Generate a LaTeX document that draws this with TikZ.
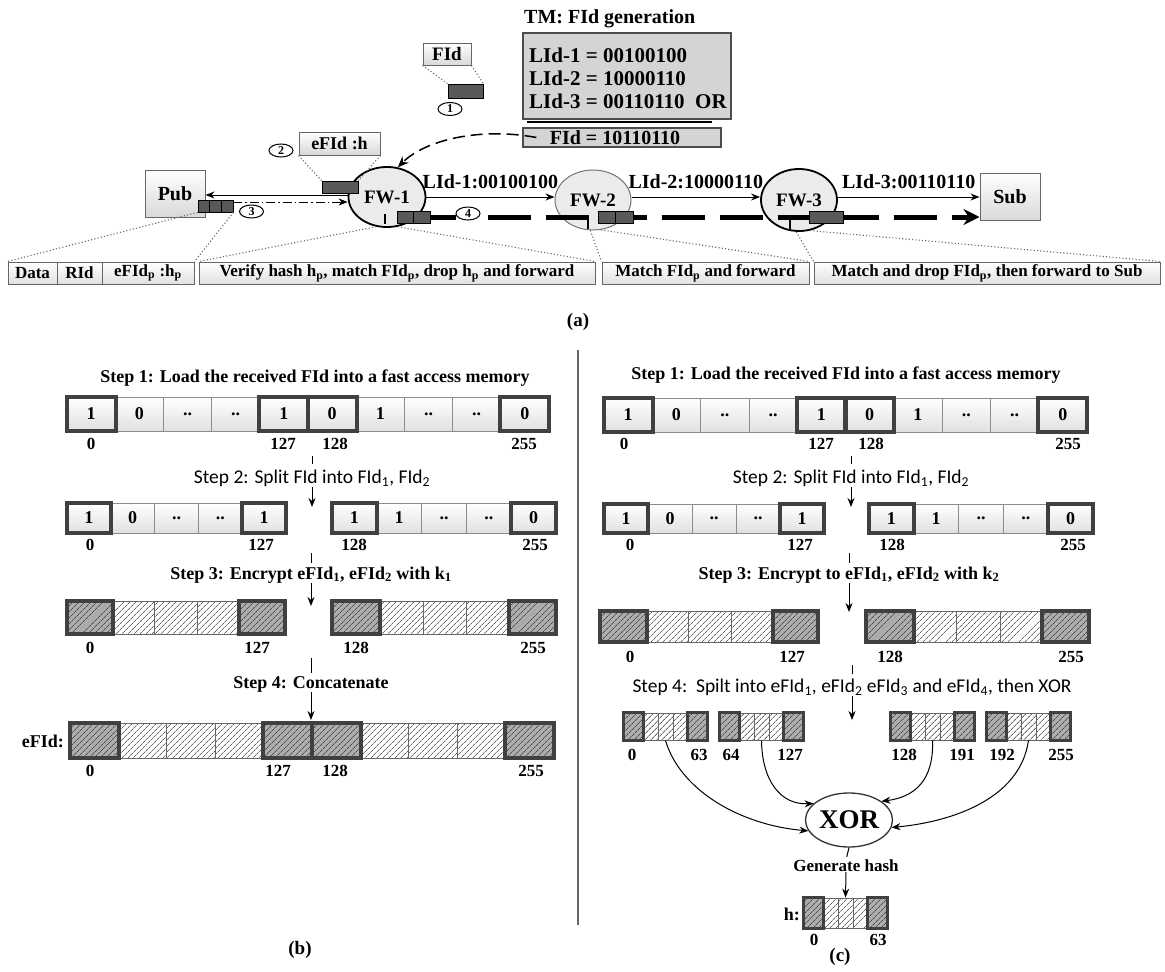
\documentclass[tikz,border=0pt]{standalone}
\usepackage{fontspec}
\setmainfont{Liberation Serif}
\newfontfamily\sansf{Carlito}
\usetikzlibrary{shapes.geometric,arrows.meta,patterns.meta}
\newcommand\twodots{..}
\tikzset{
  serb/.style={font=\fontsize{#1}{#1}\selectfont\bfseries},
  sanss/.style={font=\fontsize{#1}{#1}\selectfont\sansf},
  bare/.style={inner sep=0pt},
  cellbox/.style={draw=black!45, line width=0.8pt, top color=white, bottom color=black!12, inner sep=0pt, serb=18},
  thickb/.style={draw=black!75, line width=4pt},
  encl/.style={draw=black!60, line width=0.8pt, inner sep=0pt, preaction={fill=white}, pattern={Lines[angle=45,distance=4pt,line width=0.8pt]}, pattern color=black!60},
  encd/.style={draw=black!60, line width=0.8pt, inner sep=0pt, preaction={fill=black!32}, pattern={Lines[angle=45,distance=4pt,line width=0.8pt]}, pattern color=black!70},
  arr/.style={-{Stealth[length=9pt,width=7pt]}, line width=1pt},
  dashdotarr/.style={-{Stealth[length=9pt,width=7pt]}, line width=1pt, dash pattern=on 9pt off 3pt on 1.5pt off 3pt},
  tickl/.style={line width=1pt},
  dotl/.style={line width=1.1pt, black!60, dash pattern=on 1.1pt off 2.2pt},
  pbar/.style={draw=black, fill=black!65, line width=0.7pt, inner sep=0pt, minimum height=12pt},
  numc/.style={ellipse, draw=black, line width=1pt, fill=white, inner sep=0pt, minimum width=24pt, minimum height=13pt, serb=12},
  fw/.style={ellipse, fill=black!8, inner sep=0pt, minimum width=77pt, minimum height=60pt, serb=19},
  endbox/.style={draw=black!60, line width=1pt, top color=white, bottom color=black!15, inner sep=0pt, serb=20},
  rowbox/.style={draw=black!60, line width=1pt, top color=white, bottom color=black!12, inner sep=0pt, minimum height=22pt, serb=17},
  gbox/.style={draw=black!70, line width=1.3pt, fill=black!17, inner sep=0pt},
}
\begin{document}
\begin{tikzpicture}[x=1pt,y=-1pt]
\useasboundingbox (0,0) rectangle (1165,972);
% ---------------- (a) ----------------
\node[bare, serb=20, anchor=west] (tmt) at (524,19) {TM: FId generation};
\node[gbox, minimum width=208pt, minimum height=86pt] (tmb) at (627,76) {};
\node[bare, serb=21, anchor=west] (l1) at (529,55) {LId-1 = 00100100};
\node[bare, serb=21, anchor=west] (l2) at (529,78) {LId-2 = 10000110};
\node[bare, serb=21, anchor=west] (l3) at (529,101) {LId-3 = 00110110\ \ OR};
\coordinate (ul1) at (527,122); \coordinate (ul2) at (712,122);
\draw[line width=1.5pt] (ul1) -- (ul2);
\node[gbox, line width=1.2pt, minimum width=198pt, minimum height=19pt] (fidres) at (622,137.5) {};
\node[bare, serb=20] (fidrest) at (615,137.5) {FId = 10110110};

\node[endbox, serb=19, minimum width=48pt, minimum height=22pt] (fidbox) at (447,54) {FId};
\node[pbar, minimum width=35pt, minimum height=14pt] (fidbar) at (465.5,91) {};
\draw[dotl] (fidbox.south west) -- (fidbar.north west);
\draw[dotl] (fidbox.south east) -- (fidbar.north east);
\node[numc] (n1) at (450,109) {1};

\node[endbox, serb=18, minimum width=81pt, minimum height=23pt] (efbox) at (339.5,143.5) {eFId :h};
\node[numc] (n2) at (281,150.5) {2};

\node[fw, draw=black, line width=1.8pt] (FW1) at (387,197) {FW-1};
\node[fw, draw=black!55, line width=1pt, minimum width=76pt] (FW2) at (593,200) {FW-2};
\node[fw, draw=black, line width=1.8pt, minimum width=76pt, minimum height=62pt] (FW3) at (799,200) {FW-3};
\node[endbox, minimum width=60pt, minimum height=47pt] (Pub) at (175,193.5) {Pub};
\node[endbox, minimum width=60pt, minimum height=47pt] (Sub) at (1010,196.5) {Sub};

\node[pbar, minimum width=36pt] (efbar) at (340,187) {};
\draw[dotl] (efbox.south west) -- (efbar.north west);
\draw[dotl] (efbox.south east) -- (efbar.north east);

\draw[dashed, dash pattern=on 12pt off 6pt, line width=1.5pt, -{Stealth[length=11pt,width=9pt]}]
  ([xshift=14pt]fidres.west) .. controls (480,127) and (425,140) .. (FW1.70);

\draw[arr] (FW1.east) -- node[above=8pt, bare, serb=20] (lb1) {LId-1:00100100} (FW2.west |- FW1.east);
\draw[arr] (FW2.east |- FW1.east) -- node[above=8pt, bare, serb=20] (lb2) {LId-2:10000110} (FW3.west |- FW1.east);
\draw[arr] (FW3.east |- FW1.east) -- node[above=8pt, bare, serb=20] (lb3) {LId-3:00110110} (Sub.west |- FW1.east);
\draw[arr] ([yshift=2pt]FW1.west) -- ([yshift=2pt]FW1.west -| Pub.east);

\foreach \i in {1,2,3} \node[pbar, minimum width=11.7pt] (pk\i) at ({198+11.7*(\i-0.5)},206) {};
\coordinate (dde) at ([yshift=-5pt]FW1.west);
\draw[dashdotarr] (pk3.north east |- dde) -- (dde);
\node[numc] (n3) at (251.5,211.5) {3};

\coordinate (d0) at (430,217);
\node[numc] (n4) at (468,213.5) {4};
\draw[line width=5pt] (d0) -- (n4.west |- d0);
\draw[line width=5pt, dash pattern=on 43pt off 15pt, -{Stealth[length=16pt,width=16pt]}] ([xshift=7pt]n4.east |- d0) -- (Sub.west |- d0);
\draw[line width=1.5pt] (385,214) -- (385,224);
\draw[line width=2.5pt] (588,217) -- (588,229);
\draw[line width=2.5pt] (790,217) -- (790,229);
\node[pbar, minimum width=16.5pt] (fb1a) at (405.25,217) {};
\node[pbar, minimum width=16.5pt] (fb1b) at (421.75,217) {};
\node[pbar, minimum width=17.5pt] (fb2a) at (606.75,217) {};
\node[pbar, minimum width=17.5pt] (fb2b) at (624.25,217) {};
\node[pbar, minimum width=34pt] (fb3) at (826,217) {};

\node[rowbox, minimum width=49pt] (rData) at (32.5,273) {Data};
\node[rowbox, minimum width=45pt] (rRId) at (79.5,273) {RId};
\node[rowbox, minimum width=92pt] (rEF) at (148,273) {eFId\textsubscript{p} :h\textsubscript{p}};
\node[rowbox, minimum width=396pt] (rV) at (397,273) {Verify hash h\textsubscript{p}, match FId\textsubscript{p}, drop h\textsubscript{p} and forward};
\node[rowbox, minimum width=207pt] (rM) at (705.5,273) {Match FId\textsubscript{p} and forward};
\node[rowbox, minimum width=346pt] (rMD) at (987,273) {Match and drop FId\textsubscript{p}, then forward to Sub};

\draw[dotl] (pk1.south west) -- (rData.north west);
\draw[dotl] (pk3.south east) -- (rEF.north east);
\draw[dotl] (FW1.250) -- (rV.north west);
\draw[dotl] (FW1.290) -- (rV.north east);
\draw[dotl] (FW2.265) -- (rM.north west);
\draw[dotl] (FW2.285) -- (rM.north east);
\draw[dotl] (FW3.265) -- (rMD.north west);
\draw[dotl] (FW3.290) -- (rMD.north east);

\node[bare, serb=19] (la) at (578,322) {(a)};
\coordinate (sp1) at (578,350); \coordinate (sp2) at (578,925);
\draw[line width=1.8pt, black!60] (sp1) -- (sp2);

% ---------------- (b) ----------------
\node[bare, serb=18] (bs1) at (315,378) {Step 1: Load the received FId into a fast access memory};
\foreach \v [count=\i] in {1,0,\twodots,\twodots,1,0,1,\twodots,\twodots,0}
  \node[cellbox, minimum width=48.2pt, minimum height=34pt] (b1c\i) at ({67+48.2*(\i-0.5)},414) {\v};
\foreach \i in {1,5,6,10} \draw[thickb] (b1c\i.south west) rectangle (b1c\i.north east);
\foreach \t/\x [count=\j] in {0/91,127/283,128/335,255/524} \node[bare, serb=17] (b1i\j) at (\x,444) {\t};

\coordinate (bt2) at (312,456);
\node[bare, sanss=19.5] (bs2) at (312,478) {Step 2: Split FId into FId\textsubscript{1}, FId\textsubscript{2}};
\draw[tickl, shorten >=5pt] (bt2) -- (bs2.north);
\coordinate (ba2) at (312,507);
\draw[arr] (bs2.south) -- (ba2);
\foreach \v [count=\i] in {1,0,\twodots,\twodots,1}
  \node[cellbox, minimum width=43.8pt, minimum height=30pt] (b2l\i) at ({67+43.8*(\i-0.5)},518) {\v};
\foreach \v [count=\i] in {1,1,\twodots,\twodots,0}
  \node[cellbox, minimum width=44.8pt, minimum height=30pt] (b2r\i) at ({332+44.8*(\i-0.5)},518) {\v};
\foreach \n in {b2l1,b2l5,b2r1,b2r5} \draw[thickb] (\n.south west) rectangle (\n.north east);
\foreach \t/\x [count=\j] in {0/90,127/261,128/354,255/535} \node[bare, serb=17] (b2i\j) at (\x,545) {\t};

\coordinate (bt3) at (311,553);
\node[bare, serb=18] (bs3) at (311,575) {Step 3: Encrypt eFId\textsubscript{1}, eFId\textsubscript{2} with k\textsubscript{1}};
\draw[tickl, shorten >=4pt] (bt3) -- (bs3.north);
\coordinate (ba3) at (311,606);
\draw[arr] (bs3.south) -- (ba3);
\foreach \a/\b/\k [count=\i] in {67/113/d,113/154/l,154/197/l,197/239/l,239/285/d}
  \node[enc\k, minimum width={\b-\a}, minimum height=33pt] (b3l\i) at ({(\a+\b)/2},617.5) {};
\foreach \a/\b/\k [count=\i] in {332/380/d,380/423/l,423/466/l,466/509/l,509/556/d}
  \node[enc\k, minimum width={\b-\a}, minimum height=33pt] (b3r\i) at ({(\a+\b)/2},617.5) {};
\foreach \n in {b3l1,b3l5,b3r1,b3r5} \draw[thickb] (\n.south west) rectangle (\n.north east);
\foreach \t/\x [count=\j] in {0/90,127/257,128/356,255/533} \node[bare, serb=17] (b3i\j) at (\x,648) {\t};

\coordinate (bt4) at (311,658);
\node[bare, serb=18] (bs4) at (311,684) {Step 4: Concatenate};
\draw[tickl, shorten >=3pt] (bt4) -- (bs4.north);
\coordinate (ba4) at (311,720);
\draw[arr] (bs4.south) -- (ba4);
\foreach \k [count=\i] in {d,l,l,l,d,d,l,l,l,d}
  \node[enc\k, minimum width=48.4pt, minimum height=35pt] (b4c\i) at ({70+48.4*(\i-0.5)},740.5) {};
\foreach \i in {1,5,6,10} \draw[thickb] (b4c\i.south west) rectangle (b4c\i.north east);
\node[bare, serb=18, anchor=east] (befid) at (64,741) {eFId:};
\foreach \t/\x [count=\j] in {0/90,127/278,128/335,255/531} \node[bare, serb=17] (b4i\j) at (\x,771) {\t};
\node[bare, serb=19] (lb) at (300,950) {(b)};

% ---------------- (c) ----------------
\node[bare, serb=18] (cs1) at (846,375) {Step 1: Load the received FId into a fast access memory};
\foreach \v [count=\i] in {1,0,\twodots,\twodots,1,0,1,\twodots,\twodots,0}
  \node[cellbox, minimum width=48.3pt, minimum height=34pt] (c1c\i) at ({604+48.3*(\i-0.5)},415) {\v};
\foreach \i in {1,5,6,10} \draw[thickb] (c1c\i.south west) rectangle (c1c\i.north east);
\foreach \t/\x [count=\j] in {0/624,127/821,128/871,255/1068} \node[bare, serb=17] (c1i\j) at (\x,444) {\t};

\coordinate (ct2) at (851,456);
\node[bare, sanss=19.5] (cs2) at (851,478) {Step 2: Split FId into FId\textsubscript{1}, FId\textsubscript{2}};
\draw[tickl, shorten >=5pt] (ct2) -- (cs2.north);
\coordinate (ca2) at (851,507);
\draw[arr] (cs2.south) -- (ca2);
\foreach \v [count=\i] in {1,0,\twodots,\twodots,1}
  \node[cellbox, minimum width=44pt, minimum height=29pt] (c2l\i) at ({604+44*(\i-0.5)},518.5) {\v};
\foreach \v [count=\i] in {1,1,\twodots,\twodots,0}
  \node[cellbox, minimum width=44.8pt, minimum height=29pt] (c2r\i) at ({869+44.8*(\i-0.5)},518.5) {\v};
\foreach \n in {c2l1,c2l5,c2r1,c2r5} \draw[thickb] (\n.south west) rectangle (\n.north east);
\foreach \t/\x [count=\j] in {0/630,127/800,128/892,255/1073} \node[bare, serb=17] (c2i\j) at (\x,545) {\t};

\coordinate (ct3) at (849,553);
\node[bare, serb=18] (cs3) at (849,575) {Step 3: Encrypt to eFId\textsubscript{1}, eFId\textsubscript{2} with k\textsubscript{2}};
\draw[tickl, shorten >=4pt] (ct3) -- (cs3.north);
\coordinate (ca3) at (849,612);
\draw[arr] (cs3.south) -- (ca3);
\foreach \a/\b/\k [count=\i] in {600/647/d,647/688/l,688/731/l,731/773/l,773/818/d}
  \node[enc\k, minimum width={\b-\a}, minimum height=31pt] (c3l\i) at ({(\a+\b)/2},626.5) {};
\foreach \a/\b/\k [count=\i] in {866/914/d,914/956/l,956/1000/l,1000/1042/l,1042/1089/d}
  \node[enc\k, minimum width={\b-\a}, minimum height=31pt] (c3r\i) at ({(\a+\b)/2},626.5) {};
\foreach \n in {c3l1,c3l5,c3r1,c3r5} \draw[thickb] (\n.south west) rectangle (\n.north east);
\foreach \t/\x [count=\j] in {0/630,127/792,128/890,255/1071} \node[bare, serb=17] (c3i\j) at (\x,657) {\t};

\coordinate (ct4) at (852,665);
\node[bare, sanss=19.5] (cs4) at (852,687) {Step 4:\ \ Spilt into eFId\textsubscript{1}, eFId\textsubscript{2} eFId\textsubscript{3} and eFId\textsubscript{4}, then XOR};
\draw[tickl, shorten >=4pt] (ct4) -- (cs4.north);
\coordinate (ca4) at (852,720);
\draw[arr] (cs4.south) -- (ca4);
\foreach \s [count=\g] in {624,720,891,987} {
  \node[encd, minimum width=19pt, minimum height=27pt] (cg\g1) at ({\s+9.5},726.5) {};
  \foreach \i in {2,3,4}
    \node[encl, minimum width=15pt, minimum height=27pt] (cg\g\i) at ({\s+19+15*(\i-2)+7.5},726.5) {};
  \node[encd, minimum width=19pt, minimum height=27pt] (cg\g5) at ({\s+73.5},726.5) {};
  \draw[thickb, line width=3.5pt] (cg\g1.south west) rectangle (cg\g1.north east);
  \draw[thickb, line width=3.5pt] (cg\g5.south west) rectangle (cg\g5.north east);
}
\foreach \t/\x [count=\j] in {0/632,63/699,64/731,127/790,128/904,191/962,192/1002,255/1061}
  \node[bare, serb=17] (c4i\j) at (\x,755) {\t};

\node[ellipse, draw=black!80, line width=1.3pt, fill=white, minimum width=87pt, minimum height=54pt, inner sep=0pt, serb=27] (XOR) at (849,820) {XOR};
\draw[arr] (cg13.south) .. controls (680,790) and (740,825) .. (XOR.195);
\draw[arr] (cg23.south) .. controls (762,780) and (780,805) .. (XOR.155);
\draw[arr] (cg33.south) .. controls (934,780) and (915,797) .. (XOR.30);
\draw[arr] (cg43.south) .. controls (1020,800) and (950,822) .. (XOR.-10);

\node[bare, serb=17] (gh) at (846,866) {Generate hash};
\draw[tickl, shorten >=3pt] (XOR.south) -- (gh.north);
\node[encd, minimum width=19pt, minimum height=30pt] (hc1) at (813.5,913) {};
\foreach \i in {2,3,4}
  \node[encl, minimum width=15pt, minimum height=30pt] (hc\i) at ({804+19+15*(\i-2)+7.5},913) {};
\node[encd, minimum width=19pt, minimum height=30pt] (hc5) at (877.5,913) {};
\draw[thickb, line width=3.5pt] (hc1.south west) rectangle (hc1.north east);
\draw[thickb, line width=3.5pt] (hc5.south west) rectangle (hc5.north east);
\draw[arr] (gh.south) -- (hc3.north);
\node[bare, serb=18, anchor=east] (hlab) at (800,914) {h:};
\node[bare, serb=17] (hi1) at (814,940) {0};
\node[bare, serb=17] (hi2) at (878,940) {63};
\node[bare, serb=19] (lc) at (840,957) {(c)};
\end{tikzpicture}
\end{document}
